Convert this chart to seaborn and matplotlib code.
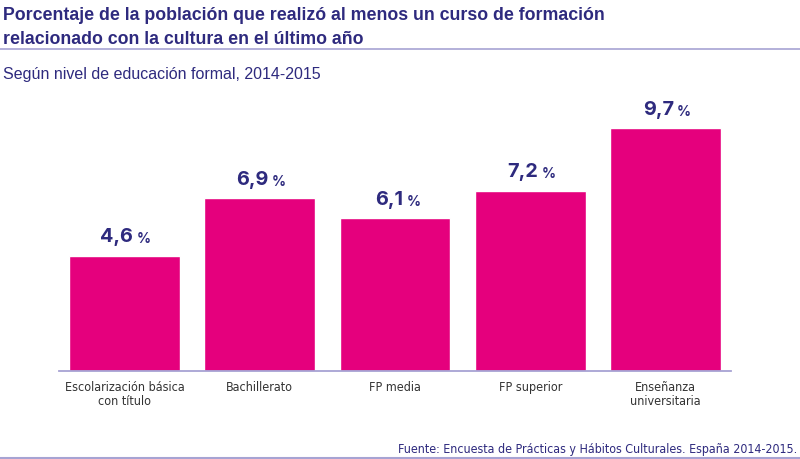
import pandas as pd
import numpy as np
import seaborn as sns
import matplotlib.pyplot as plt
from matplotlib.lines import Line2D
from matplotlib import font_manager

categorias = ["Escolarización básica\ncon título", "Bachillerato", "FP media",
              "FP superior", "Enseñanza\nuniversitaria"]
valores = [4.6, 6.9, 6.1, 7.2, 9.7]
etiquetas = ["4,6", "6,9", "6,1", "7,2", "9,7"]

magenta = "#e5007d"
navy = "#2e2a7e"
lavender = "#a7a3d3"

sns.set_style("white")
plt.rcParams['font.family'] = ['Liberation Sans', 'DejaVu Sans']

# look for a narrow / condensed face for the small texts
narrow_file = None
for f in font_manager.fontManager.ttflist:
    n = f.fname.lower()
    if ("narrow" in n or "condensed" in n) and "bold" not in n and "oblique" not in n \
            and "italic" not in n and f.fname.endswith(".ttf"):
        if narrow_file is None or "liberation" in n:
            narrow_file = f.fname
if narrow_file:
    tick_fp = font_manager.FontProperties(fname=narrow_file, size=9.0)
    src_fp = font_manager.FontProperties(fname=narrow_file, size=8.9)
else:
    tick_fp = font_manager.FontProperties(family="Liberation Sans", size=8.0)
    src_fp = font_manager.FontProperties(family="Liberation Sans", size=8.0)

num_fp = font_manager.FontProperties(family=["Inter", "Liberation Sans"], weight="bold", size=14.3)
pct_fp = font_manager.FontProperties(family=["Inter", "Liberation Sans"], weight="bold", size=10)

df = pd.DataFrame({"nivel": categorias, "pct": valores})

fig = plt.figure(figsize=(8, 4.6), dpi=100)
ax = fig.add_axes([0.07375, 0.192, 0.84, 0.5907])
sns.barplot(data=df, x="nivel", y="pct", color=magenta, width=0.82,
            saturation=1, ax=ax)

ax.set_xlim(-0.485, 4.485)
ax.set_ylim(0, 10.87)
ax.set_xlabel("")
ax.set_ylabel("")
ax.set_yticks([])
for s in ["top", "right", "left"]:
    ax.spines[s].set_visible(False)
ax.spines["bottom"].set_color(lavender)
ax.spines["bottom"].set_linewidth(1.3)
ax.tick_params(axis="x", length=0, pad=7)
for lab in ax.get_xticklabels():
    lab.set_fontproperties(tick_fp)
    lab.set_color("#333333")
    lab.set_linespacing(1.1)

for i, (v, t) in enumerate(zip(valores, etiquetas)):
    ax.annotate(t, (i, v), xytext=(6.0, 7.5), textcoords="offset points",
                ha="right", va="bottom", fontproperties=num_fp, color=navy)
    ax.annotate("%", (i, v), xytext=(8.5, 7.5), textcoords="offset points",
                ha="left", va="bottom", fontproperties=pct_fp, color=navy)

fig.text(0.004, 0.984, "Porcentaje de la población que realizó al menos un curso de formación\n"
         "relacionado con la cultura en el último año",
         ha="left", va="top", fontsize=12.8, fontweight="bold", color=navy, linespacing=1.5)
fig.add_artist(Line2D([0, 1], [1 - 50 / 460, 1 - 50 / 460], color=lavender, lw=1.2,
                      transform=fig.transFigure))
fig.text(0.004, 1 - 74 / 460, "Según nivel de educación formal, 2014-2015",
         ha="left", va="center", fontsize=11.5, color=navy)
fig.text(0.996, 1 - 450 / 460, "Fuente: Encuesta de Prácticas y Hábitos Culturales. España 2014-2015.",
         ha="right", va="center", color=navy, fontproperties=src_fp)
fig.add_artist(Line2D([0, 1], [1 - 459 / 460, 1 - 459 / 460], color=lavender, lw=1.5,
                      transform=fig.transFigure))

fig.savefig("out.png", dpi=100)
